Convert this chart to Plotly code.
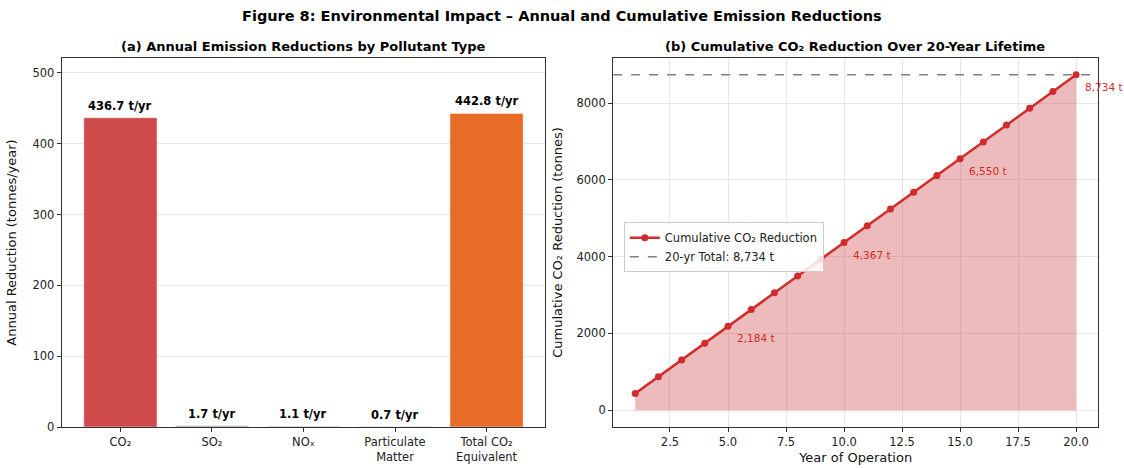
import plotly.graph_objects as go

# ---- data ----
pollutants = ["CO₂", "SO₂", "NOₓ", "Particulate<br>Matter", "Total CO₂<br>Equivalent"]
annual_reduction = [436.7, 1.7, 1.1, 0.7, 442.8]
bar_colors = ["#cf4a4b", "#9a9a9a", "#9a9a9a", "#9a9a9a", "#e96b28"]

years = list(range(1, 21))
cumulative_co2 = [437, 873, 1310, 1747, 2184, 2620, 3057, 3494, 3930, 4367,
                  4804, 5240, 5677, 6114, 6550, 6987, 7424, 7861, 8297, 8734]
label_years = [5, 10, 15, 20]
total_20yr = 8734

FONT = "DejaVu Sans"
RED = "#d22b2b"

fig = go.Figure()

# left: bars
fig.add_trace(go.Bar(
    x=list(range(len(pollutants))), y=annual_reduction, width=0.8,
    marker=dict(color=bar_colors, line=dict(width=0.8, color="rgba(255,255,255,0.6)")),
    xaxis="x", yaxis="y", showlegend=False,
))
for i, v in enumerate(annual_reduction):
    fig.add_annotation(x=i, y=v, xref="x", yref="y", text=f"<b>{v:.1f} t/yr</b>",
                       showarrow=False, yanchor="bottom", yshift=3,
                       font=dict(family=FONT, size=11.5, color="black"))

# right: fill
fig.add_trace(go.Scatter(
    x=years + years[::-1], y=cumulative_co2 + [0] * len(years),
    fill="toself", fillcolor="rgba(200,45,45,0.32)", line=dict(width=0),
    mode="lines", hoverinfo="skip", showlegend=False, xaxis="x2", yaxis="y2",
))
fig.add_trace(go.Scatter(
    x=years, y=cumulative_co2, mode="lines+markers",
    line=dict(color=RED, width=2.5), marker=dict(size=7, color=RED),
    name="Cumulative CO₂ Reduction", xaxis="x2", yaxis="y2",
))
fig.add_trace(go.Scatter(
    x=[0.05, 20.95], y=[total_20yr, total_20yr], mode="lines",
    line=dict(color="#808080", width=1.5, dash="dash"),
    name=f"20-yr Total: {total_20yr:,} t", xaxis="x2", yaxis="y2",
))
for yr in label_years:
    val = cumulative_co2[yr - 1]
    fig.add_annotation(x=yr, y=val, xref="x2", yref="y2", text=f"{val:,} t",
                       showarrow=False, xanchor="left", yanchor="middle",
                       xshift=7, yshift=-12,
                       font=dict(family=FONT, size=10.5, color=RED))

axis_common = dict(showline=True, linecolor="#333333", linewidth=1.2, mirror=True,
                   ticks="outside", ticklen=4, tickcolor="#333333",
                   tickfont=dict(family=FONT, size=11.5, color="#222222"),
                   gridcolor="#e6e6e6", gridwidth=1, zeroline=False, automargin=False)

fig.update_layout(
    width=1124, height=468,
    margin=dict(l=0, r=0, t=0, b=0),
    paper_bgcolor="white", plot_bgcolor="white",
    font=dict(family=FONT, size=11.5, color="#222222"),
    xaxis=dict(domain=[0.055, 0.485], range=[-0.64, 4.64], tickmode="array",
               tickvals=list(range(len(pollutants))), ticktext=pollutants,
               showgrid=False, anchor="y", **axis_common),
    yaxis=dict(domain=[0.0876, 0.876], range=[0, 521], dtick=100, showgrid=True,
               anchor="x",
               title=dict(text="Annual Reduction (tonnes/year)", standoff=12,
                          font=dict(family=FONT, size=13, color="#111111")),
               **axis_common),
    xaxis2=dict(domain=[0.5455, 0.977], range=[0.05, 20.95], dtick=2.5, tick0=0,
                tickformat=".1f", showgrid=True, anchor="y2",
                title=dict(text="Year of Operation", standoff=4,
                           font=dict(family=FONT, size=13, color="#111111")),
                **axis_common),
    yaxis2=dict(domain=[0.0876, 0.876], range=[-437, 9171], dtick=2000, showgrid=True,
                anchor="x2",
                title=dict(text="Cumulative CO₂ Reduction (tonnes)", standoff=10,
                           font=dict(family=FONT, size=13, color="#111111")),
                **axis_common),
    legend=dict(x=0.555, y=0.525, xref="paper", yref="paper", xanchor="left", yanchor="top",
                bgcolor="rgba(255,255,255,0.85)", bordercolor="#cccccc", borderwidth=1,
                font=dict(family=FONT, size=11.5, color="#222222"),
                tracegroupgap=0),
    showlegend=True,
)

fig.add_annotation(text="<b>Figure 8: Environmental Impact – Annual and Cumulative Emission Reductions</b>",
                   x=0.5, y=1 - 16 / 468, xref="paper", yref="paper", showarrow=False,
                   xanchor="center", yanchor="middle",
                   font=dict(family=FONT, size=14.5, color="black"))
fig.add_annotation(text="<b>(a) Annual Emission Reductions by Pollutant Type</b>",
                   x=0.27, y=1 - 47 / 468, xref="paper", yref="paper", showarrow=False,
                   xanchor="center", yanchor="middle",
                   font=dict(family=FONT, size=13, color="black"))
fig.add_annotation(text="<b>(b) Cumulative CO₂ Reduction Over 20-Year Lifetime</b>",
                   x=0.761, y=1 - 47 / 468, xref="paper", yref="paper", showarrow=False,
                   xanchor="center", yanchor="middle",
                   font=dict(family=FONT, size=13, color="black"))

fig.write_html("out.html", config={"displayModeBar": False},
               post_script="document.body.style.margin='0';document.body.style.overflow='hidden';")
